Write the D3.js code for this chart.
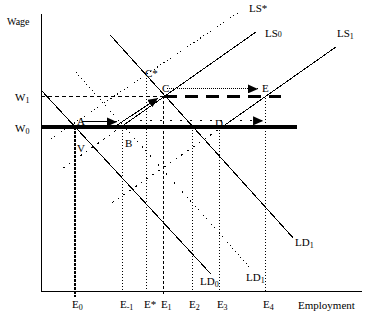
<!DOCTYPE html>
<html><head><meta charset="utf-8">
<script src="https://cdn.jsdelivr.net/npm/d3@7"></script>
<style>html,body{margin:0;padding:0;background:#fff;} svg{display:block;}</style>
</head><body>
<script>
// ---- data (employment / wage units) ----
const wageNames = ["W", "W"];
const wageSubs = ["0", "1"];
const wageValues = [59, 70];

const empNames = ["E", "E", "E*", "E", "E", "E", "E"];
const empSubs = ["0", "-1", "", "1", "2", "3", "4"];
const empValues = [10.6, 25.6, 33.1, 38.4, 47.2, 55.9, 70.3];
const empGuideTop = [59, 59, 77.7, 70, 59, 57.9, 69.4];
const empGuideBottom = [-2.2, 0, 0, -1, 0, 0, 0];

const ld0 = [[0, 72.3], [53.1, 6.1]];
const ld1 = [[21.6, 92.1], [78.8, 19.1]];
const ld1Dotted = [[10.9, 78.8], [65.3, 8.3]];
const ls0 = [[25, 59], [67.2, 93.2]];
const ls0Below = [[6.9, 44.2], [25, 59]];
const ls1 = [[56.6, 59], [92.2, 87.8]];
const ls1Below = [[22.2, 31.7], [56.6, 59]];
const lsStar = [[3.1, 54.7], [61.9, 100.4]];

const curveNames = ["LS*", "LS", "LS", "LD", "LD", "LD"];
const curveSubs = ["", "0", "1", "1", "0", "1"];
const curveLabelX = [65, 70, 92.5, 79.4, 49.7, 64.1];
const curveLabelY = [100.4, 91.4, 91.4, 16.2, 2.2, 3.6];

const pointNames = ["A", "B", "C", "C*", "D", "E", "V"];
const pointX = [11.25, 26.25, 37.8, 32.5, 54.4, 69.1, 11.25];
const pointY = [59.7, 51.8, 71.6, 77.0, 59.0, 71.6, 50];

const arrowAB = [[12.8, 60.8], [23.75, 60.8]];
const arrowBC = [[23.4, 59.4], [36.6, 69.4]];
const arrowCE = [[39.4, 72.7], [67.8, 72.7]];
const arrowDE = [[30.9, 61.2], [69.4, 61.2]];

// ---- drawing ----
const W = 366, H = 318;
const svg = d3.select("body").append("svg").attr("width", W).attr("height", H)
  .style("font-family", "'Liberation Serif','Times New Roman',serif");

const x = d3.scaleLinear().domain([0, 100]).range([41, 361]);
const y = d3.scaleLinear().domain([0, 100]).range([291, 13]);
const line = d3.line().x(d => x(d[0])).y(d => y(d[1]));

const defs = svg.append("defs");
defs.append("marker").attr("id", "ah").attr("markerUnits", "userSpaceOnUse")
  .attr("viewBox", "0 0 10 9").attr("markerWidth", 10).attr("markerHeight", 9)
  .attr("refX", 10).attr("refY", 4.5).attr("orient", "auto")
  .append("path").attr("d", "M0,0L10,4.5L0,9Z").attr("fill", "#000");

const g = svg.append("g").attr("shape-rendering", "crispEdges");

// axes
g.append("g").attr("transform", `translate(0,${y(0)})`)
  .call(d3.axisBottom(x).tickValues([]).tickSizeOuter(0))
  .select(".domain").attr("stroke", "#000");
g.append("g").attr("transform", `translate(${x(0)},0)`)
  .call(d3.axisLeft(y).tickValues([]).tickSizeOuter(0))
  .select(".domain").attr("stroke", "#000");

function path(data, dash, width) {
  g.append("path").attr("d", line(data)).attr("fill", "none")
    .attr("stroke", "#000").attr("stroke-width", width || 1)
    .attr("stroke-dasharray", dash || null);
}

// vertical guides
const guideDash = ["3,1", "1,2", "1,2", "3,2", "1,2", "1,2", "1,2"];
const guideWidth = [2.5, 1, 1, 1, 1, 1, 1];
empValues.forEach((v, i) => {
  path([[v, empGuideTop[i]], [v, empGuideBottom[i]]], guideDash[i], guideWidth[i]);
});

// demand curves
path(ld0);
path(ld1);
path(ld1Dotted, "1,3");
// supply curves
path(ls0);
path(ls0Below, "2,5");
path(ls1);
path(ls1Below, "2,5");
path(lsStar, "1,3");

// wage lines
path([[0, wageValues[1]], [empValues[3], wageValues[1]]], "4,3");
path([[empValues[3], wageValues[1]], [75, wageValues[1]]], "13,8", 3);
path([[0, wageValues[0]], [80, wageValues[0]]], null, 4);

// arrows
function arrow(data, dash) {
  g.append("path").attr("d", line(data)).attr("fill", "none")
    .attr("stroke", "#000").attr("stroke-dasharray", dash || null)
    .attr("marker-end", "url(#ah)");
}
arrow(arrowAB);
arrow(arrowBC);
arrow(arrowCE, "1,1");
arrow(arrowDE, "2,8");

// text
const t = svg.append("g").attr("fill", "#000").attr("font-size", 11);
function label(xp, yp, main, sub, subDy, subSize) {
  const el = t.append("text").attr("x", xp).attr("y", yp).text(main);
  if (sub) {
    el.append("tspan").attr("dy", subDy).attr("font-size", subSize || 8).text(sub);
  }
  return el;
}

label(7, 25, "Wage").attr("font-size", 10);
wageValues.forEach((v, i) => {
  label(15, y(v) + 5, wageNames[i], wageSubs[i], 2);
});

empValues.forEach((v, i) => {
  label(x(v) - 3, 308, empNames[i], empSubs[i], 2);
});
label(298, 309, "Employment");

curveNames.forEach((n, i) => {
  label(x(curveLabelX[i]), y(curveLabelY[i]), n, curveSubs[i], i === 1 ? 0 : 2);
});

pointNames.forEach((n, i) => {
  label(x(pointX[i]), y(pointY[i]), n);
});
</script>
</body></html>
